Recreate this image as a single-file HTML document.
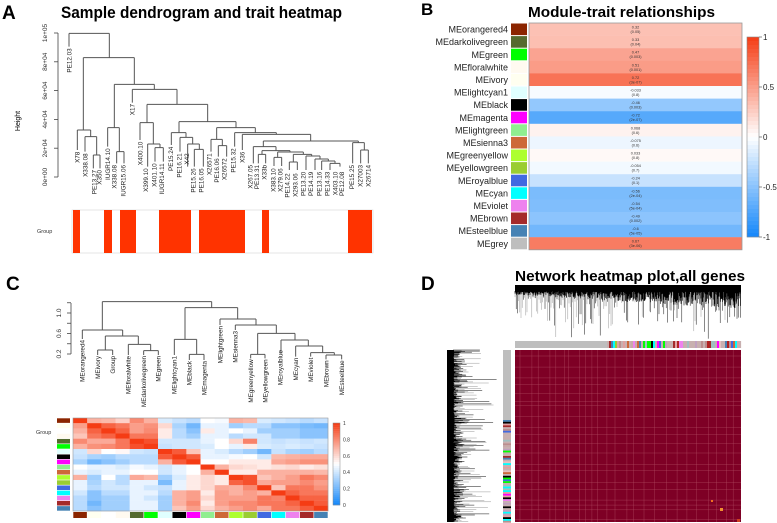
<!DOCTYPE html>
<html><head><meta charset="utf-8"><style>
html,body{margin:0;padding:0;background:#fff;}
svg{display:block;font-family:"Liberation Sans",sans-serif;}
</style></head><body>
<svg id="fig" width="777" height="523" viewBox="0 0 777 523" xmlns="http://www.w3.org/2000/svg">
<g>
<text x="2" y="19" font-size="19" font-weight="bold">A</text>
<text x="61" y="18" font-size="17" font-weight="bold" textLength="281" lengthAdjust="spacingAndGlyphs">Sample dendrogram and trait heatmap</text>
<g id="aAxis"></g>
<text transform="translate(20,121) rotate(-90)" font-size="7" text-anchor="middle">Height</text>
<g id="aDend" transform="scale(0.33333)" stroke="#555" stroke-width="3" fill="none"></g>
<g id="aLabels" transform="scale(0.33333)" font-size="19" fill="#222"></g>
<text x="37" y="233" font-size="5.5" fill="#333">Group</text>
<g id="aGroup"></g>
</g>
<g>
<text x="421" y="15" font-size="17" font-weight="bold">B</text>
<text x="528" y="17" font-size="15" font-weight="bold" textLength="187" lengthAdjust="spacingAndGlyphs">Module-trait relationships</text>
<g id="bHeat"></g>
<g id="bLegend"></g>
</g>
<g>
<text x="6" y="290" font-size="19" font-weight="bold">C</text>
<g id="cAxis"></g>
<g id="cDend" transform="translate(0,260) scale(0.33333)" stroke="#555" stroke-width="3" fill="none"></g>
<g id="cLabels" transform="translate(0,260) scale(0.33333)" font-size="19" fill="#222"></g>
<g id="cHeat"></g>
<text x="36" y="434" font-size="5.5" fill="#333">Group</text>
<g id="cLegend"></g>
</g>
<g>
<text x="421" y="290" font-size="19" font-weight="bold">D</text>
<text x="515" y="281" font-size="15" font-weight="bold" textLength="230" lengthAdjust="spacingAndGlyphs">Network heatmap plot,all genes</text>
<g id="dTop"></g>
<g id="dLeft"></g>
<g id="dBars"></g>
<g id="dHeat"></g>
</g>
</svg>
<script>
// ---------- Panel B data ----------
const bModules = ["MEorangered4","MEdarkolivegreen","MEgreen","MEfloralwhite","MEivory","MElightcyan1","MEblack","MEmagenta","MElightgreen","MEsienna3","MEgreenyellow","MEyellowgreen","MEroyalblue","MEcyan","MEviolet","MEbrown","MEsteelblue","MEgrey"];
const bSwatches = ["#8B2500","#556B2F","#00FF00","#FFFAF0","#FFFFF0","#E0FFFF","#000000","#FF00FF","#90EE90","#CD6839","#ADFF2F","#9ACD32","#4169E1","#00FFFF","#EE82EE","#A52A2A","#4682B4","#BEBEBE"];
const bCorr = [0.32,0.33,0.47,0.51,0.72,-0.033,-0.46,-0.72,0.068,-0.075,0.033,-0.054,-0.24,-0.56,-0.54,-0.49,-0.6,0.67];
const bPvals = ["(0.05)","(0.04)","(0.003)","(0.001)","(3e-07)","(0.8)","(0.003)","(2e-07)","(0.6)","(0.6)","(0.8)","(0.7)","(0.1)","(2e-04)","(5e-04)","(0.002)","(5e-05)","(3e-06)"];
const bTicks = [1,0.5,0,-0.5,-1];
const bTickLabels = ["1","0.5","0","-0.5","-1"];

// ---------- Panel A data ----------
const aTicks = [0,20000,40000,60000,80000,100000];
const aTickLabels = ["0e+00","2e+04","4e+04","6e+04","8e+04","1e+05"];
const aGroupStarts = [73,104,120,159,199,262,348];
const aGroupEnds = [80,112,136,191,245,269,372];

// ---------- Panel C data ----------
const cNames = ["MEorangered4","MEivory","Group","MEfloralwhite","MEdarkolivegreen","MEgreen","MElightcyan1","MEblack","MEmagenta","MElightgreen","MEsienna3","MEgreenyellow","MEyellowgreen","MEroyalblue","MEcyan","MEviolet","MEbrown","MEsteelblue"];
const cColors = ["#8B2500","#FFFFF0","#FFFFFF","#FFFAF0","#556B2F","#00FF00","#E0FFFF","#000000","#FF00FF","#90EE90","#CD6839","#ADFF2F","#9ACD32","#4169E1","#00FFFF","#EE82EE","#A52A2A","#4682B4"];
const cTicks = [0.2,0.6,1.0];
const cLegTicks = [0,0.2,0.4,0.6,0.8,1];
const cMat = [
[1,.7,.68,.62,.8,.7,.42,.38,.35,.5,.48,.7,.68,.42,.4,.38,.35,.38],
[.75,1,.9,.85,.75,.78,.6,.32,.2,.45,.45,.3,.35,.35,.25,.25,.22,.2],
[.7,.9,1,.9,.75,.8,.55,.35,.25,.55,.45,.5,.45,.3,.3,.3,.25,.25],
[.65,.85,.9,1,.85,.85,.55,.35,.3,.45,.45,.35,.4,.4,.3,.3,.25,.25],
[.8,.72,.72,.85,1,.95,.4,.4,.4,.45,.5,.6,.82,.4,.38,.4,.38,.4],
[.7,.78,.8,.85,.95,1,.38,.4,.4,.42,.5,.45,.55,.42,.4,.42,.4,.38],
[.4,.6,.5,.52,.4,.38,1,.92,.65,.45,.42,.35,.3,.2,.38,.32,.3,.35],
[.38,.32,.3,.35,.35,.35,.92,1,.92,.45,.45,.48,.5,.4,.68,.7,.72,.72],
[.32,.2,.25,.3,.35,.35,.7,.92,1,.5,.5,.55,.55,.55,.72,.75,.78,.78],
[.5,.45,.45,.42,.48,.45,.4,.45,.5,1,.7,.6,.58,.55,.58,.6,.55,.58],
[.45,.42,.45,.45,.5,.5,.4,.45,.5,.7,1,.55,.55,.7,.7,.7,.7,.68],
[.7,.3,.5,.35,.72,.68,.3,.42,.55,.6,.55,1,.95,.65,.7,.75,.85,.8],
[.45,.32,.4,.35,.45,.45,.22,.45,.55,.6,.55,.9,.95,.72,.75,.75,.8,.75],
[.45,.35,.4,.4,.45,.4,.38,.45,.55,.6,.72,.7,.8,1,.65,.85,.85,.78],
[.4,.25,.35,.35,.45,.45,.35,.7,.75,.55,.75,.7,.75,.7,1,.9,.85,.85],
[.35,.25,.3,.3,.45,.4,.3,.7,.75,.6,.75,.75,.75,.85,.82,1,.9,.9],
[.35,.2,.3,.3,.45,.45,.3,.7,.8,.55,.75,.8,.8,.85,.85,.9,1,.92],
[.35,.25,.3,.3,.45,.45,.3,.65,.75,.6,.7,.75,.8,.72,.85,.85,.92,1]];

const NS="http://www.w3.org/2000/svg";
function mk(parent,tag,attrs){const e=document.createElementNS(NS,tag);for(const k in attrs)e.setAttribute(k,attrs[k]);parent.appendChild(e);return e;}
function lerp(a,b,t){return Math.round(a+(b-a)*t);}
function divColor(v){
  const W=[255,255,255], R=[245,60,20], B=[20,135,250];
  const c=v>=0?R:B, t=Math.min(1,Math.abs(v));
  return `rgb(${lerp(W[0],c[0],t)},${lerp(W[1],c[1],t)},${lerp(W[2],c[2],t)})`;
}

// ===== Panel A =====
(function(){
  const g=document.getElementById('aAxis');
  const y0=177,y1=33,x=58;
  const yS=v=>y0+(y1-y0)*v/100000;
  const ax=mk(g,'line',{x1:x,x2:x,y1:yS(0),y2:yS(100000),stroke:'#444','stroke-width':0.8});
  
  
  aTicks.forEach((t,i)=>{
    const tk=mk(g,'line',{x1:x-4,x2:x,y1:yS(t),y2:yS(t),stroke:'#444','stroke-width':0.8});
    
    
    const tl=mk(g,'text',{transform:`translate(47,${yS(t)}) rotate(-90)`,'font-size':6.5,'text-anchor':'middle',fill:'#333'});
    tl.textContent=aTickLabels[i];
    
    
  });
  const segs=[[207,100,328,100],[207,100,207,140],[328,100,328,173],[250,173,403,173],
  [250,173,250,390],[232,390,272,390],[232,390,232,450],[272,390,272,410],[255,410,290,410],[255,410,255,455],[290,410,290,465],[280,465,300,465],[280,465,280,505],[300,465,300,505],
  [403,173,403,253],[343,253,463,253],[343,253,343,383],[323,383,358,383],[323,383,323,440],[358,383,358,455],[350,455,372,455],[350,455,350,490],[372,455,372,490],
  [463,253,463,268],[397,268,531,268],[397,268,397,308],[531,268,531,313],[441,313,623,313],[441,313,441,368],[420,368,460,368],[420,368,420,420],[460,368,460,432],[443,432,480,432],[443,432,443,500],[480,432,480,443],[465,443,490,443],[465,443,465,485],[490,443,490,485],
  [623,313,623,365],[537,365,708,365],[537,365,537,398],[514,398,558,398],[514,398,514,435],[558,398,558,412],[540,412,578,412],[540,412,540,455],[578,412,578,432],[563,432,598,432],[563,432,563,500],[598,432,598,448],[583,448,610,448],[583,448,583,500],[610,448,610,500],
  [708,365,708,383],[650,383,766,383],[650,383,650,418],[633,418,667,418],[633,418,633,455],[667,418,667,437],[655,437,680,437],[655,437,655,470],[680,437,680,470],
  [766,383,766,398],[704,398,829,398],[704,398,704,440],[829,398,829,403],[727,403,932,403],[727,403,727,450],[932,403,932,423],[790,423,1075,423],[1075,423,1075,428],[1058,428,1093,428],[1058,428,1058,490],[1093,428,1093,450],[1082,450,1105,450],[1082,450,1082,490],[1105,450,1105,490],
  [790,423,790,440],[760,440,828,440],[760,440,760,490],[828,440,828,452],[786,452,870,452],[786,452,786,463],[775,463,797,463],[775,463,775,490],[797,463,797,490],
  [870,452,870,456],[833,456,910,456],[833,456,833,472],[822,472,845,472],[822,472,822,498],[845,472,845,498],[910,456,910,463],[880,463,935,463],[880,463,880,486],[868,486,892,486],[868,486,868,510],[892,486,892,510],
  [935,463,935,468],[918,468,960,468],[918,468,918,510],[960,468,960,477],[945,477,985,477],[945,477,945,510],[985,477,985,483],[965,483,1005,483],[965,483,965,510],[1005,483,1005,490],[990,490,1020,490],[990,490,990,510],[1020,490,1020,500]];
  const d=document.getElementById('aDend');
  let p='';segs.forEach(s=>p+=`M${s[0]} ${s[1]}L${s[2]} ${s[3]}`);
  const pa=mk(d,'path',{d:p});
  
  
  const labs=[["PE12.03",207,145],["X78",232,455],["X338.08",255,460],["PE13.27",282,510],["X350",298,510],["IUGR14.10",323,445],["X338.08",343,495],["IUGR15.06",370,495],["X17",397,312],["X400.10",420,425],["X399.10",437,505],["X401.10",462,490],["IUGR14.11",485,490],["PE15.24",512,440],["PE16.21",537,460],["X42",560,460],["PE15.26",580,505],["PE16.05",603,505],["X26571",628,460],["PE16.06",650,475],["X26572",672,475],["PE15.32",700,445],["X36",727,455],["X267.05",750,495],["PE13.31",770,495],["X33b",793,495],["X383.10",820,505],["X279.06",840,505],["PE14.22",862,520],["X293.06",886,520],["PE13.20",910,515],["PE14.19",932,515],["PE13.16",957,515],["PE14.33",982,515],["X403.10",1005,515],["PE12.08",1025,515],["PE15.25",1055,495],["X27003",1080,495],["X26714",1105,495]];
  const lg=document.getElementById('aLabels');
  labs.forEach(l=>{const t=mk(lg,'text',{transform:`translate(${l[1]+7},${l[2]}) rotate(-90)`,'text-anchor':'end'});t.textContent=l[0];
    
    });
  const gg=document.getElementById('aGroup');
  const bg=mk(gg,'rect',{x:72,y:210,width:301,height:43,fill:'#fff',stroke:'#ccc','stroke-width':0.5});
  
  
  aGroupStarts.forEach((s,i)=>{const r=mk(gg,'rect',{x:s,y:210,width:aGroupEnds[i]-s,height:43,fill:'#FF3300'});
    
    });
})();

// ===== Panel B =====
(function(){
  const g=document.getElementById('bHeat');
  const top=23,rowH=12.6,x0=529,w=213;
  bModules.forEach((m,i)=>{
    const y=top+i*rowH;
    const lab=mk(g,'text',{x:508,y:y+rowH/2+3.3,'font-size':9,'text-anchor':'end',fill:'#222'});lab.textContent=m;
    
    
    const sw=mk(g,'rect',{x:511,y:y+0.5,width:16,height:rowH-1,fill:bSwatches[i]});
    
    
    const c=mk(g,'rect',{x:x0,y:y,width:w,height:rowH+0.2,fill:divColor(bCorr[i])});
    
    
    const t=mk(g,'text',{x:x0+w/2,y:y+5.5,'font-size':3.8,'text-anchor':'middle',fill:'#333'});t.textContent=String(bCorr[i]);
    
    
    const t2=mk(g,'text',{x:x0+w/2,y:y+10,'font-size':3.8,'text-anchor':'middle',fill:'#333'});t2.textContent=bPvals[i];
    
    
  });
  const fr=mk(g,'rect',{x:x0,y:top,width:w,height:rowH*18,fill:'none',stroke:'#999','stroke-width':0.8});
  
  
  const L=document.getElementById('bLegend');
  const ly=v=>137-100*v;
  for(let k=0;k<50;k++){const v=1-k*0.04;const r=mk(L,'rect',{x:747,y:ly(v),width:12,height:4.2,fill:divColor(v-0.02)});
    
    }
  const lf=mk(L,'rect',{x:747,y:37,width:12,height:200,fill:'none',stroke:'#888','stroke-width':0.6});
  
  
  bTicks.forEach((t,i)=>{
    const tk=mk(L,'line',{x1:759,x2:762,y1:ly(t),y2:ly(t),stroke:'#444','stroke-width':0.6});
    
    
    const tl=mk(L,'text',{x:763,y:ly(t)+3,'font-size':8,fill:'#222'});tl.textContent=bTickLabels[i];
    
    
  });
})();

// ===== Panel C =====
(function(){
  const g=document.getElementById('cAxis');
  const yS=v=>354-(v-0.2)*(354-313)/0.8;
  const al=mk(g,'line',{x1:71,x2:71,y1:303,y2:354,stroke:'#444','stroke-width':0.8});
  
  
  [0.2,0.4,0.6,0.8,1.0,1.2].forEach(t=>{const l=mk(g,'line',{x1:67,x2:71,y1:yS(t),y2:yS(t),stroke:'#444','stroke-width':0.8});
    
    });
  cTicks.forEach(t=>{const tl=mk(g,'text',{transform:`translate(61,${yS(t)}) rotate(-90)`,'font-size':6.5,'text-anchor':'middle',fill:'#333'});tl.textContent=t.toFixed(1);
    
    });
  const segs=[[307,125,635,125],[307,125,307,210],[247,210,368,210],[247,210,247,237],[368,210,368,228],[316,228,415,228],[316,228,316,270],[293,270,338,270],[293,270,293,285],[338,270,338,285],[415,228,415,253],[385,253,452,253],[385,253,385,285],[452,253,452,272],[431,272,475,272],[431,272,431,285],[475,272,475,285],
  [635,125,635,143],[555,143,713,143],[555,143,555,238],[523,238,590,238],[523,238,523,285],[590,238,590,283],[568,283,612,283],[568,283,568,300],[612,283,612,300],
  [713,143,713,177],[660,177,768,177],[660,177,660,195],[768,177,768,195],[706,195,829,195],[706,195,706,210],[829,195,829,220],[773,220,885,220],[773,220,773,283],[752,283,795,283],[752,283,752,295],[795,283,795,295],[885,220,885,240],[843,240,925,240],[843,240,843,280],[925,240,925,258],[887,258,968,258],[887,258,887,290],[968,258,968,278],[932,278,1003,278],[932,278,932,290],[1003,278,1003,285],[978,285,1025,285],[978,285,978,298],[1025,285,1025,298]];
  let p='';segs.forEach(s=>p+=`M${s[0]} ${s[1]}L${s[2]} ${s[3]}`);
  const pa=mk(document.getElementById('cDend'),'path',{d:p});
  
  
  const lx=[247,293,338,385,431,475,523,568,612,660,706,752,795,840,887,932,978,1025];
  const ly=[240,288,288,288,288,288,288,303,303,198,213,298,298,270,293,293,301,301];
  const lg=document.getElementById('cLabels');
  cNames.forEach((n,i)=>{const t=mk(lg,'text',{transform:`translate(${lx[i]+7},${ly[i]}) rotate(-90)`,'text-anchor':'end'});t.textContent=n;
    
    });
  const H=document.getElementById('cHeat');
  const x0=73,y0=158+260,cw=(328-73)/18,ch=(511-418)/18;
  cMat.forEach((row,i)=>row.forEach((v,j)=>{
    const r=mk(H,'rect',{x:x0+j*cw,y:y0+i*ch,width:cw+0.2,height:ch+0.2,fill:divColor((v-0.5)*2)});
    
    
  }));
  const fr=mk(H,'rect',{x:x0,y:y0,width:cw*18,height:ch*18,fill:'none',stroke:'#999','stroke-width':0.6});
  
  
  cColors.forEach((c,i)=>{
    const a=mk(H,'rect',{x:57,y:y0+i*ch+0.3,width:13,height:ch-0.6,fill:c});
    
    
    const b=mk(H,'rect',{x:x0+i*cw+0.3,y:512,width:cw-0.6,height:6,fill:c});
    
    
  });
  const L=document.getElementById('cLegend');
  const lyS=v=>505-82*v;
  for(let k=0;k<40;k++){const v=1-k/40;const r=mk(L,'rect',{x:333,y:lyS(v),width:7,height:2.3,fill:divColor((v-0.0125-0.5)*2)});
    
    }
  const lf=mk(L,'rect',{x:333,y:423,width:7,height:82,fill:'none',stroke:'#888','stroke-width':0.5});
  
  
  cLegTicks.forEach(t=>{const tl=mk(L,'text',{x:343,y:lyS(t)+2,'font-size':5,fill:'#333'});tl.textContent=String(t);
    
    });
})();

// ===== Panel D (decorative gene-level texture, deterministic) =====
(function(){
  let s=12345;const rnd=()=>{s=(s*1103515245+12345)%2147483648;return s/2147483648;};
  const T=document.getElementById('dTop');
  const band=mk(T,'rect',{x:515,y:285,width:226,height:7,fill:'#000'});
  
  
  let p='',pg='',pb='';
  for(let x=515;x<741;x+=0.5){
    const f=(x-515)/226;
    const sh=rnd()*(4+14*f);
    pb+=`M${x.toFixed(1)} 291V${(291+sh).toFixed(1)}`;
  }
  for(let x=515;x<741;x+=1.2){
    const f=(x-515)/226;
    const len=6+rnd()*rnd()*45;
    const seg=`M${x.toFixed(1)} 291V${(291+len).toFixed(1)}`;
    if(rnd()<0.3+0.5*f) p+=seg; else pg+=seg;
  }
  const tp=mk(T,'path',{d:pg,stroke:'#999','stroke-width':0.5});
  
  
  const tp2=mk(T,'path',{d:p,stroke:'#111','stroke-width':0.5});
  
  
  const tp3=mk(T,'path',{d:pb,stroke:'#000','stroke-width':0.6});
  
  
  const Lg=document.getElementById('dLeft');
  const lb=mk(Lg,'rect',{x:447,y:350,width:7,height:172,fill:'#000'});
  
  
  p='';pg='';pb='';
  for(let y=350;y<522;y+=0.5){pb+=`M453 ${y.toFixed(1)}H${(453+rnd()*rnd()*16).toFixed(1)}`;}
  for(let y=350;y<522;y+=1.1){
    const len=4+rnd()*rnd()*45;
    const seg=`M453 ${y.toFixed(1)}H${(453+len).toFixed(1)}`;
    if(rnd()<0.45) p+=seg; else pg+=seg;
  }
  const lp=mk(Lg,'path',{d:pg,stroke:'#999','stroke-width':0.5});
  
  
  const lp2=mk(Lg,'path',{d:p,stroke:'#111','stroke-width':0.5});
  
  
  const lp3=mk(Lg,'path',{d:pb,stroke:'#000','stroke-width':0.6});
  
  
  const B=document.getElementById('dBars');
  const pal=['#BEBEBE','#C9A9A9','#E0A0A0','#A0C0C0','#00FF00','#C0A0C0','#9ACD32','#4169E1','#A52A2A','#00FFFF','#000000','#FF00FF','#B22222','#CD6839','#EE82EE','#E8C0C0','#4682B4','#BC8F8F'];
  const tb=mk(B,'rect',{x:515,y:341,width:226,height:7,fill:'#BEBEBE'});
  
  
  const lcb=mk(B,'rect',{x:503,y:350,width:8,height:172,fill:'#BEBEBE'});
  
  
  for(let x=607;x<741;x+=2){const c=pal[1+Math.floor(rnd()*(pal.length-1))];
    const r=mk(B,'rect',{x:x,y:341,width:2.1,height:7,fill:rnd()<0.35?'#C8B0B0':c});
    
    }
  for(let y=420;y<522;y+=1.8){const c=pal[1+Math.floor(rnd()*(pal.length-1))];
    const r=mk(B,'rect',{x:503,y:y,width:8,height:1.9,fill:rnd()<0.35?'#C8B0B0':c});
    
    }
  const H=document.getElementById('dHeat');
  const hm=mk(H,'rect',{x:515,y:350,width:226,height:172,fill:'#7E0025'});
  
  
  p='';
  for(let x=520;x<741;x+=4+rnd()*8) p+=`M${x.toFixed(1)} 350V522`;
  for(let y=356;y<522;y+=4+rnd()*8) p+=`M515 ${y.toFixed(1)}H741`;
  const gl=mk(H,'path',{d:p,stroke:'#C87080','stroke-width':0.35,opacity:0.7});
  
  
  [[711,500,2,'#F07020'],[720,508,3,'#F09030'],[737,519,3,'#D04020']].forEach(h=>{
    const r=mk(H,'rect',{x:h[0],y:h[1],width:h[2],height:h[2],fill:h[3]});
    
    });
})();
</script>
</body></html>
